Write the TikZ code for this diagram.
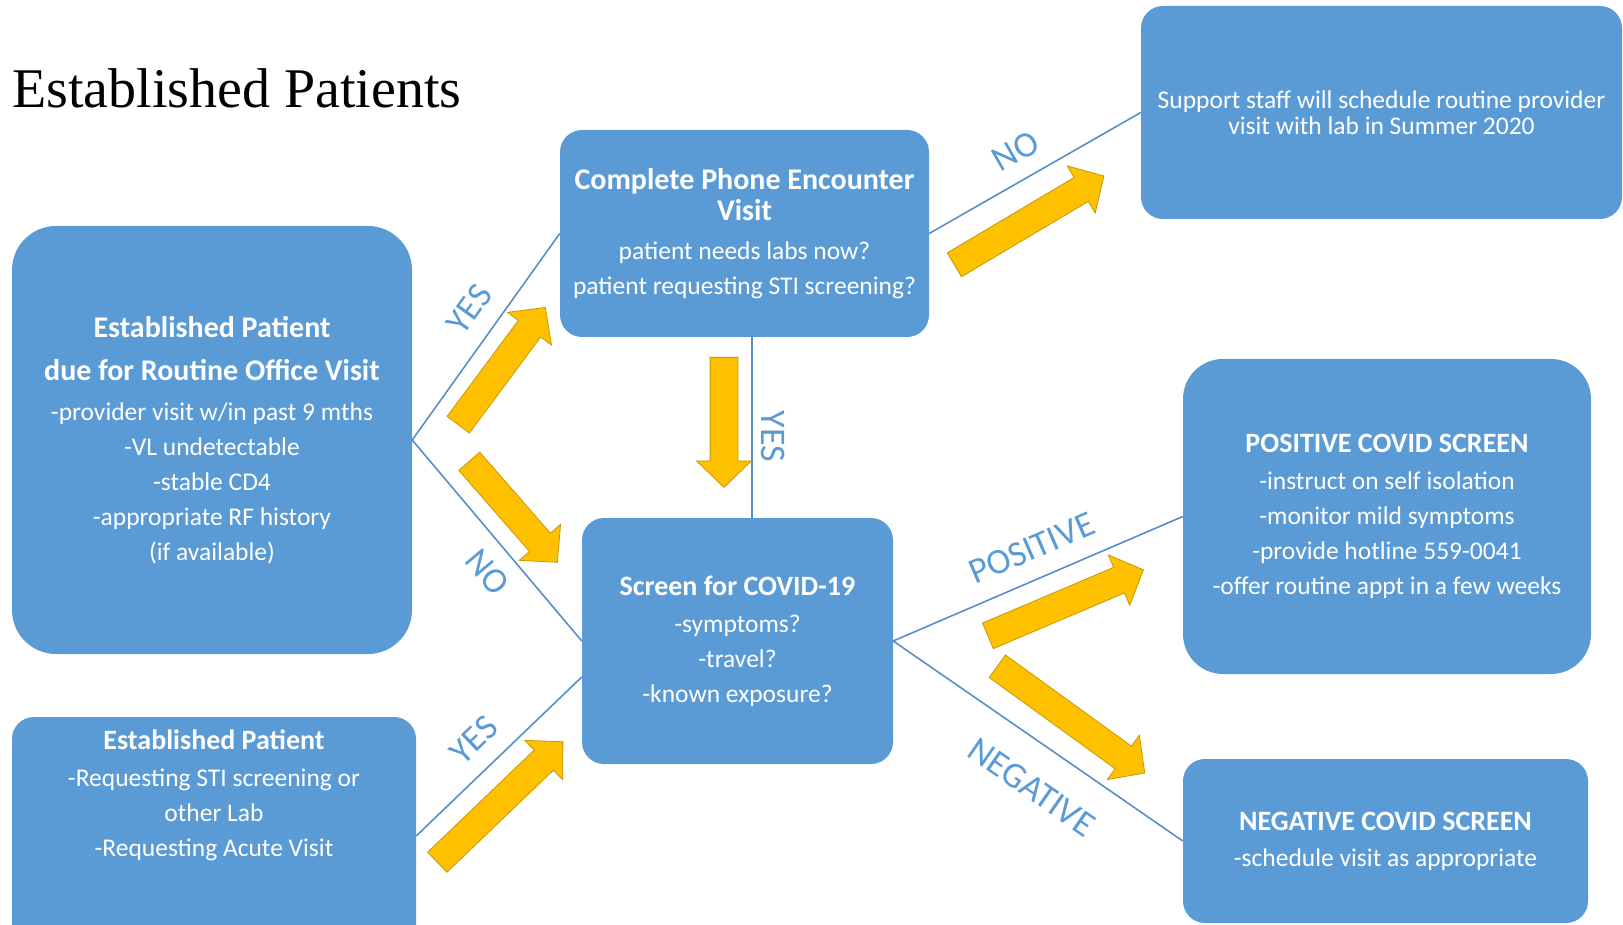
\documentclass[tikz,border=0pt]{standalone}
\usepackage{fontspec}
\setmainfont{Carlito}
\newfontfamily\titleserif{Liberation Serif}
\usepackage{tikz}
\usetikzlibrary{shapes.arrows, positioning, calc}
\definecolor{boxblue}{HTML}{5B9BD5}
\definecolor{linkblue}{HTML}{5A8CC6}
\definecolor{labelblue}{HTML}{5B9BD5}
\definecolor{arrowgold}{HTML}{FFC000}
\definecolor{arrowedge}{HTML}{C49A00}
\newcommand{\boxhead}[2][28]{{\fontsize{#1}{35}\selectfont\bfseries #2}}

\begin{document}
\begin{tikzpicture}[
    x=1pt, y=-1pt,
    panel/.style={rectangle, rounded corners=#1, fill=boxblue, text=white, align=center, inner sep=0pt, font=\fontsize{25.5}{35}\selectfont},
    panel/.default=22pt,
    paneltext/.style={text=white, align=center, inner sep=0pt, font=\fontsize{25.5}{35}\selectfont},
    link/.style={draw=linkblue, line width=1.6pt},
    lbl/.style={text=labelblue, font=\fontsize{36}{40}\selectfont, inner sep=2pt, sloped},
    yarrow/.style={single arrow, draw=arrowedge, fill=arrowgold, line width=0.8pt, inner sep=0pt, text height=27pt, text depth=0pt, single arrow head extend=13.5pt, single arrow tip angle=92, anchor=tail},
]
\useasboundingbox (0,0) rectangle (1623,925);

\node[anchor=base west, inner sep=0pt, font=\titleserif\fontsize{56}{60}\selectfont] (title) at (12,108) {Established Patients};

% boxes
\node[panel=44pt, minimum width=400pt, minimum height=428pt] (routine) at (212,440) {\boxhead[30]{Established Patient}\\[8pt]\boxhead[30]{due for Routine Office Visit}\\[5pt]-provider visit w/in past 9 mths\\-VL undetectable\\-stable CD4\\-appropriate RF history\\(if available)};
\node[panel, minimum width=369pt, minimum height=207pt] (phone) at (744.5,233.5) {\boxhead[30]{Complete Phone Encounter}\\[-4pt]\boxhead[30]{Visit}\\[4pt]patient needs labs now?\\patient requesting STI screening?};
\node[panel, minimum width=481pt, minimum height=213pt] (support) at (1381.5,112.5) {Support staff will schedule routine provider\\[-9pt]visit with lab in Summer 2020};
\node[panel, minimum width=311pt, minimum height=246pt] (screen) at (737.5,641) {\boxhead{Screen for COVID-19}\\[2pt]-symptoms?\\-travel?\\-known exposure?};
\node[panel=40pt, minimum width=408pt, minimum height=315pt] (positive) at (1387,516.5) {\boxhead{POSITIVE COVID SCREEN}\\[2pt]-instruct on self isolation\\-monitor mild symptoms\\-provide hotline 559-0041\\-offer routine appt in a few weeks};
\node[panel, minimum width=405pt, minimum height=164pt] (negative) at (1385.5,841) {\boxhead{NEGATIVE COVID SCREEN}\\[1pt]-schedule visit as appropriate};
\node[panel, minimum width=404pt, minimum height=238pt] (estacute) at (214,836) {};
\node[paneltext, below=13pt of estacute.north] (estacutetext) {\boxhead{Established Patient}\\[2pt]-Requesting STI screening or\\other Lab\\-Requesting Acute Visit};

% connectors
\coordinate (vtop) at ([xshift=7.5pt]phone.south);
\coordinate (vbot) at (vtop |- screen.north);
\draw[link] (routine.east) -- node[lbl, pos=0.55, above=15pt] (yesphone) {YES} (phone.west);
\draw[link] (routine.east) -- node[lbl, pos=0.57, below=13pt] (noscreen) {NO} (screen.west);
\draw[link] (vtop) -- node[lbl, pos=0.55, above=6pt] (yesdown) {YES} (vbot);
\draw[link] (phone.east) -- node[lbl, pos=0.475, above=14pt] (nosupport) {NO} (support.west);
\draw[link] (screen.east) -- node[lbl, pos=0.52, above=16pt] (pos) {POSITIVE} (positive.west);
\draw[link] (screen.east) -- node[lbl, pos=0.56, below=27pt] (neg) {NEGATIVE} (negative.west);
\draw[link] (estacute.east) -- node[lbl, pos=0.47, above=15pt] (yesacute) {YES} (screen.193);

% yellow arrows
\node[yarrow, minimum height=146pt, rotate=53.4] (arrphone) at (458,425) {};
\node[yarrow, minimum height=134pt, rotate=-48.9] (arrscreen) at (469,461) {};
\node[yarrow, minimum height=130pt, rotate=-90] (arrdown) at (724,357) {};
\node[yarrow, minimum height=174pt, rotate=30.7] (arrsupport) at (954,265) {};
\node[yarrow, minimum height=169pt, rotate=23] (arrpos) at (987.5,636) {};
\node[yarrow, minimum height=182pt, rotate=-35.9] (arrneg) at (997,666) {};
\node[yarrow, minimum height=174pt, rotate=43.8] (arracute) at (437,862.5) {};
\end{tikzpicture}
\end{document}
